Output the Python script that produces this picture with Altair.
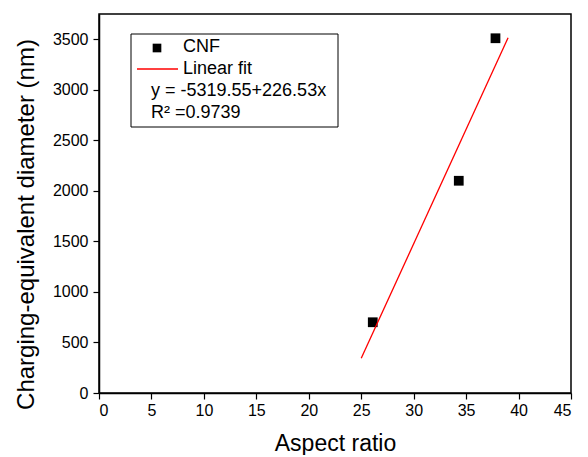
import altair as alt
import pandas as pd

# Data
aspect_ratio = [26.1, 34.3, 37.8]
diameter = [700, 2100, 3510]
fit_x = [25, 39]
fit_y = [343.7, 3515.1]

pts = pd.DataFrame({"x": aspect_ratio, "y": diameter})
fit = pd.DataFrame({"x": fit_x, "y": fit_y})

FONT = "Liberation Sans"
W, H = 472, 379

xscale = alt.Scale(domain=[0, 45], nice=False, zero=False)
yscale = alt.Scale(domain=[0, 3750], nice=False, zero=False)

x_ticks = [i * 2.5 for i in range(19)]
y_ticks = [i * 250 for i in range(16)]

xaxis = alt.Axis(
    values=x_ticks,
    labelExpr="datum.value % 5 === 0 ? datum.label : ''",
    tickSize={"condition": {"test": "datum.value % 5 === 0", "value": 6}, "value": 3},
    grid=False, domainColor="black", tickColor="black", labelColor="black",
    labelFont=FONT, labelFontSize=16, labelPadding=3,
    title="Aspect ratio", titleFont=FONT, titleFontSize=23, titleFontWeight="normal",
    titleColor="black", titlePadding=14, format="d",
)
yaxis = alt.Axis(
    values=y_ticks,
    labelExpr="datum.value % 500 === 0 ? datum.label : ''",
    tickSize={"condition": {"test": "datum.value % 500 === 0", "value": 6}, "value": 3},
    grid=False, domainColor="black", tickColor="black", labelColor="black",
    labelFont=FONT, labelFontSize=16, labelPadding=5,
    title="Charging-equivalent diameter (nm)", titleFont=FONT, titleFontSize=24,
    titleFontWeight="normal", titleColor="black",
    titleX=-66, titleY=210, titleBaseline="alphabetic", titleAlign="center", titleAngle=270,
    format="d",
)

points = alt.Chart(pts).mark_square(size=95, color="black", opacity=1).encode(
    x=alt.X("x:Q", scale=xscale, axis=xaxis),
    y=alt.Y("y:Q", scale=yscale, axis=yaxis),
)

line = alt.Chart(fit).mark_line(color="red", strokeWidth=1.3).encode(
    x=alt.X("x:Q", scale=xscale),
    y=alt.Y("y:Q", scale=yscale),
)

dummy = pd.DataFrame({"a": [0]})
box = alt.Chart(dummy).mark_rect(fill="white", stroke="black", strokeWidth=1).encode(
    x=alt.value(32), x2=alt.value(239), y=alt.value(20), y2=alt.value(113)
)
leg_sq = alt.Chart(dummy).mark_square(size=75, color="black", opacity=1).encode(
    x=alt.value(58), y=alt.value(34)
)
leg_line = alt.Chart(dummy).mark_rule(color="red", strokeWidth=1.3).encode(
    x=alt.value(38), x2=alt.value(79), y=alt.value(55)
)
texts = [
    ("CNF", 84, 33),
    ("Linear fit", 84, 55),
    ("y = -5319.55+226.53x", 52, 77),
    ("R² =0.9739", 52, 99),
]
text_layers = [
    alt.Chart(dummy).mark_text(
        text=t, align="left", baseline="middle", font=FONT, fontSize=18, color="black"
    ).encode(x=alt.value(xp), y=alt.value(yp))
    for t, xp, yp in texts
]

chart = alt.layer(points, line, box, leg_sq, leg_line, *text_layers).properties(
    width=W, height=H,
    autosize=alt.AutoSizeParams(type="none"),
    padding={"left": 91, "top": 6, "right": 9, "bottom": 62},
).configure_view(stroke="black", strokeWidth=1.5).configure_axis(domainWidth=1.5, tickWidth=1.2)

chart.save("out.html", embed_options={"renderer": "svg", "actions": False})
